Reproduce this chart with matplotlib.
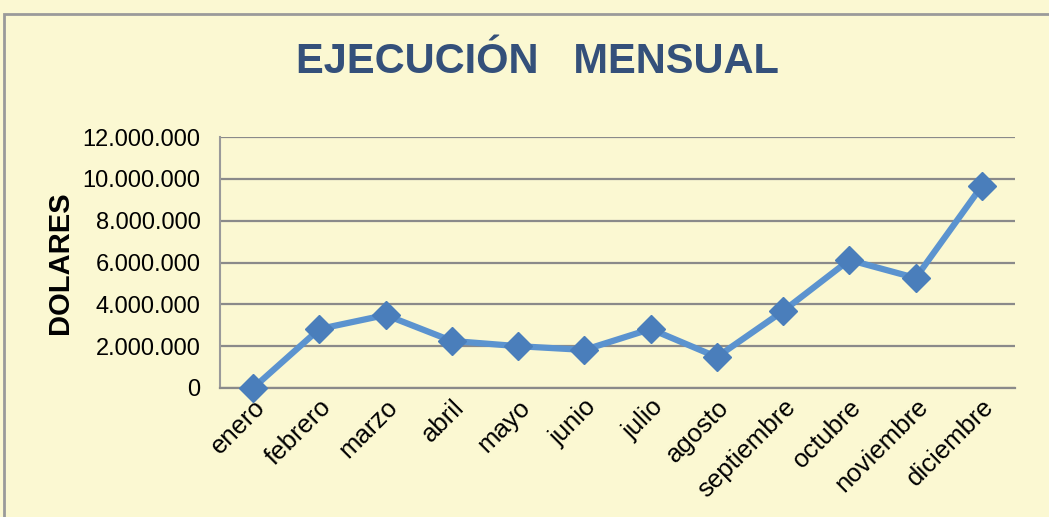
import matplotlib.pyplot as plt
from matplotlib.patches import Rectangle

meses = ['enero', 'febrero', 'marzo', 'abril', 'mayo', 'junio', 'julio',
         'agosto', 'septiembre', 'octubre', 'noviembre', 'diciembre']
ejecucion = [0, 2820000, 3490000, 2250000, 2000000, 1820000, 2820000,
             1480000, 3680000, 6120000, 5260000, 9660000]
yticks = [0, 2000000, 4000000, 6000000, 8000000, 10000000, 12000000]
ylabels = ['0', '2.000.000', '4.000.000', '6.000.000', '8.000.000',
           '10.000.000', '12.000.000']

plt.rcParams['font.family'] = ['Liberation Sans', 'DejaVu Sans']
bg = '#FBF8D2'

fig = plt.figure(figsize=(10.49, 5.17), dpi=100, facecolor=bg)
fig.patches.append(Rectangle((4 / 1049, -0.1), 1.2, (517 - 14) / 517 + 0.1,
                             transform=fig.transFigure, fill=False,
                             edgecolor='#9A9A9A', linewidth=2, zorder=0))
ax = fig.add_axes([220 / 1049, 1 - 388 / 517, 795 / 1049, 251 / 517])
ax.set_facecolor(bg)

x = range(len(meses))
ax.plot(x, ejecucion, color='#5B93CF', linewidth=4.5, marker='D',
        markersize=14, markerfacecolor='#4A7EBB', markeredgecolor='#4A7EBB',
        zorder=3, clip_on=False)

ax.set_xlim(-0.5, 11.5)
ax.set_ylim(0, 12000000)
ax.set_yticks(yticks)
ax.set_yticklabels(ylabels, fontsize=17)
ax.set_xticks(list(x))
ax.set_xticklabels(meses, fontsize=18.5, rotation=45, ha='right',
                   rotation_mode='anchor')
ax.tick_params(axis='y', length=0, pad=14)
ax.tick_params(axis='x', length=0, pad=5)
ax.grid(axis='y', color='#8A8A8A', linewidth=1.6)
ax.set_axisbelow(True)
for s in ['top', 'right']:
    ax.spines[s].set_visible(False)
ax.spines['left'].set_color('#9A9A9A')
ax.spines['bottom'].set_color('#8A8A8A')
ax.spines['left'].set_linewidth(1.5)
ax.spines['bottom'].set_linewidth(1.6)

ax.set_ylabel('DOLARES', fontsize=21, fontweight='bold', labelpad=6)
fig.text(537 / 1049, 1 - 62 / 517, 'EJECUCIÓN   MENSUAL', fontsize=30,
         fontweight='bold', color='#34507A', ha='center', va='center')

fig.savefig('out.png', dpi=100, facecolor=bg)
